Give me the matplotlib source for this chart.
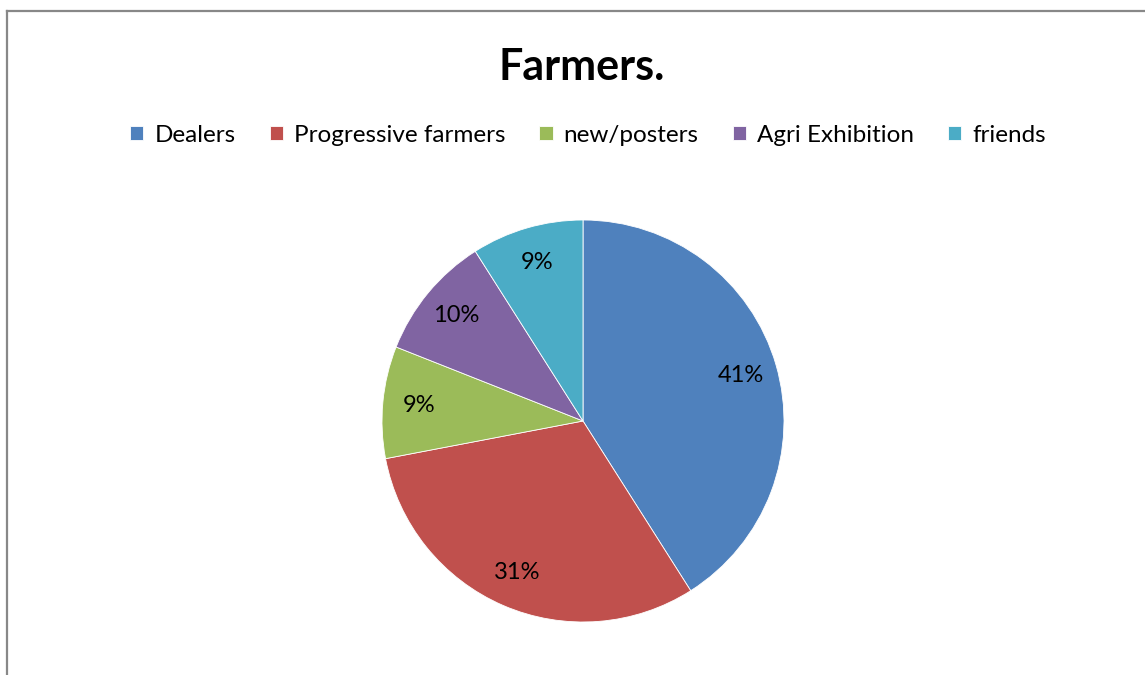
import matplotlib
matplotlib.use('Agg')
import matplotlib.pyplot as plt
from matplotlib.lines import Line2D

plt.rcParams['font.family'] = ['Lato', 'DejaVu Sans']

# share of farmers by information source (%)
sources = ['Dealers', 'Progressive farmers', 'new/posters', 'Agri Exhibition', 'friends']
shares = [41, 31, 9, 10, 9]
colors = ['#4F81BD', '#C0504D', '#9BBB59', '#8064A2', '#4BACC6']

W, H = 1145, 675
fig = plt.figure(figsize=(W / 100, H / 100), dpi=100)

# pie centred at (583, 421) px, radius 201 px
cx, cy, r = 583, 421, 201
ax = fig.add_axes([(cx - r) / W, (H - cy - r) / H, 2 * r / W, 2 * r / H])
wedges, texts, autotexts = ax.pie(
    shares, colors=colors, startangle=90, counterclock=False,
    autopct='%d%%', pctdistance=0.82,
    wedgeprops=dict(edgecolor='white', linewidth=0.6),
    textprops=dict(fontsize=17, color='black'))
ax.set_xlim(-1, 1)
ax.set_ylim(-1, 1)
ax.set_aspect('auto')
ax.axis('off')

fig.text(582 / W, 1 - 67 / H, 'Farmers.', ha='center', va='center',
         fontsize=31, fontweight='bold')

fig.legend(wedges, sources, loc='center', bbox_to_anchor=(588 / W, 1 - 135 / H),
           ncol=5, frameon=False, fontsize=17.5, handlelength=0.55, handleheight=0.55,
           handletextpad=0.45, columnspacing=1.4)

# chart area border (left and top edges visible)
bx, by = 7 / W, 1 - 11 / H
fig.add_artist(Line2D([bx, bx], [0, by], color='#888888', linewidth=1.6))
fig.add_artist(Line2D([bx, 1], [by, by], color='#888888', linewidth=1.6))

fig.savefig('out.png', dpi=100)
